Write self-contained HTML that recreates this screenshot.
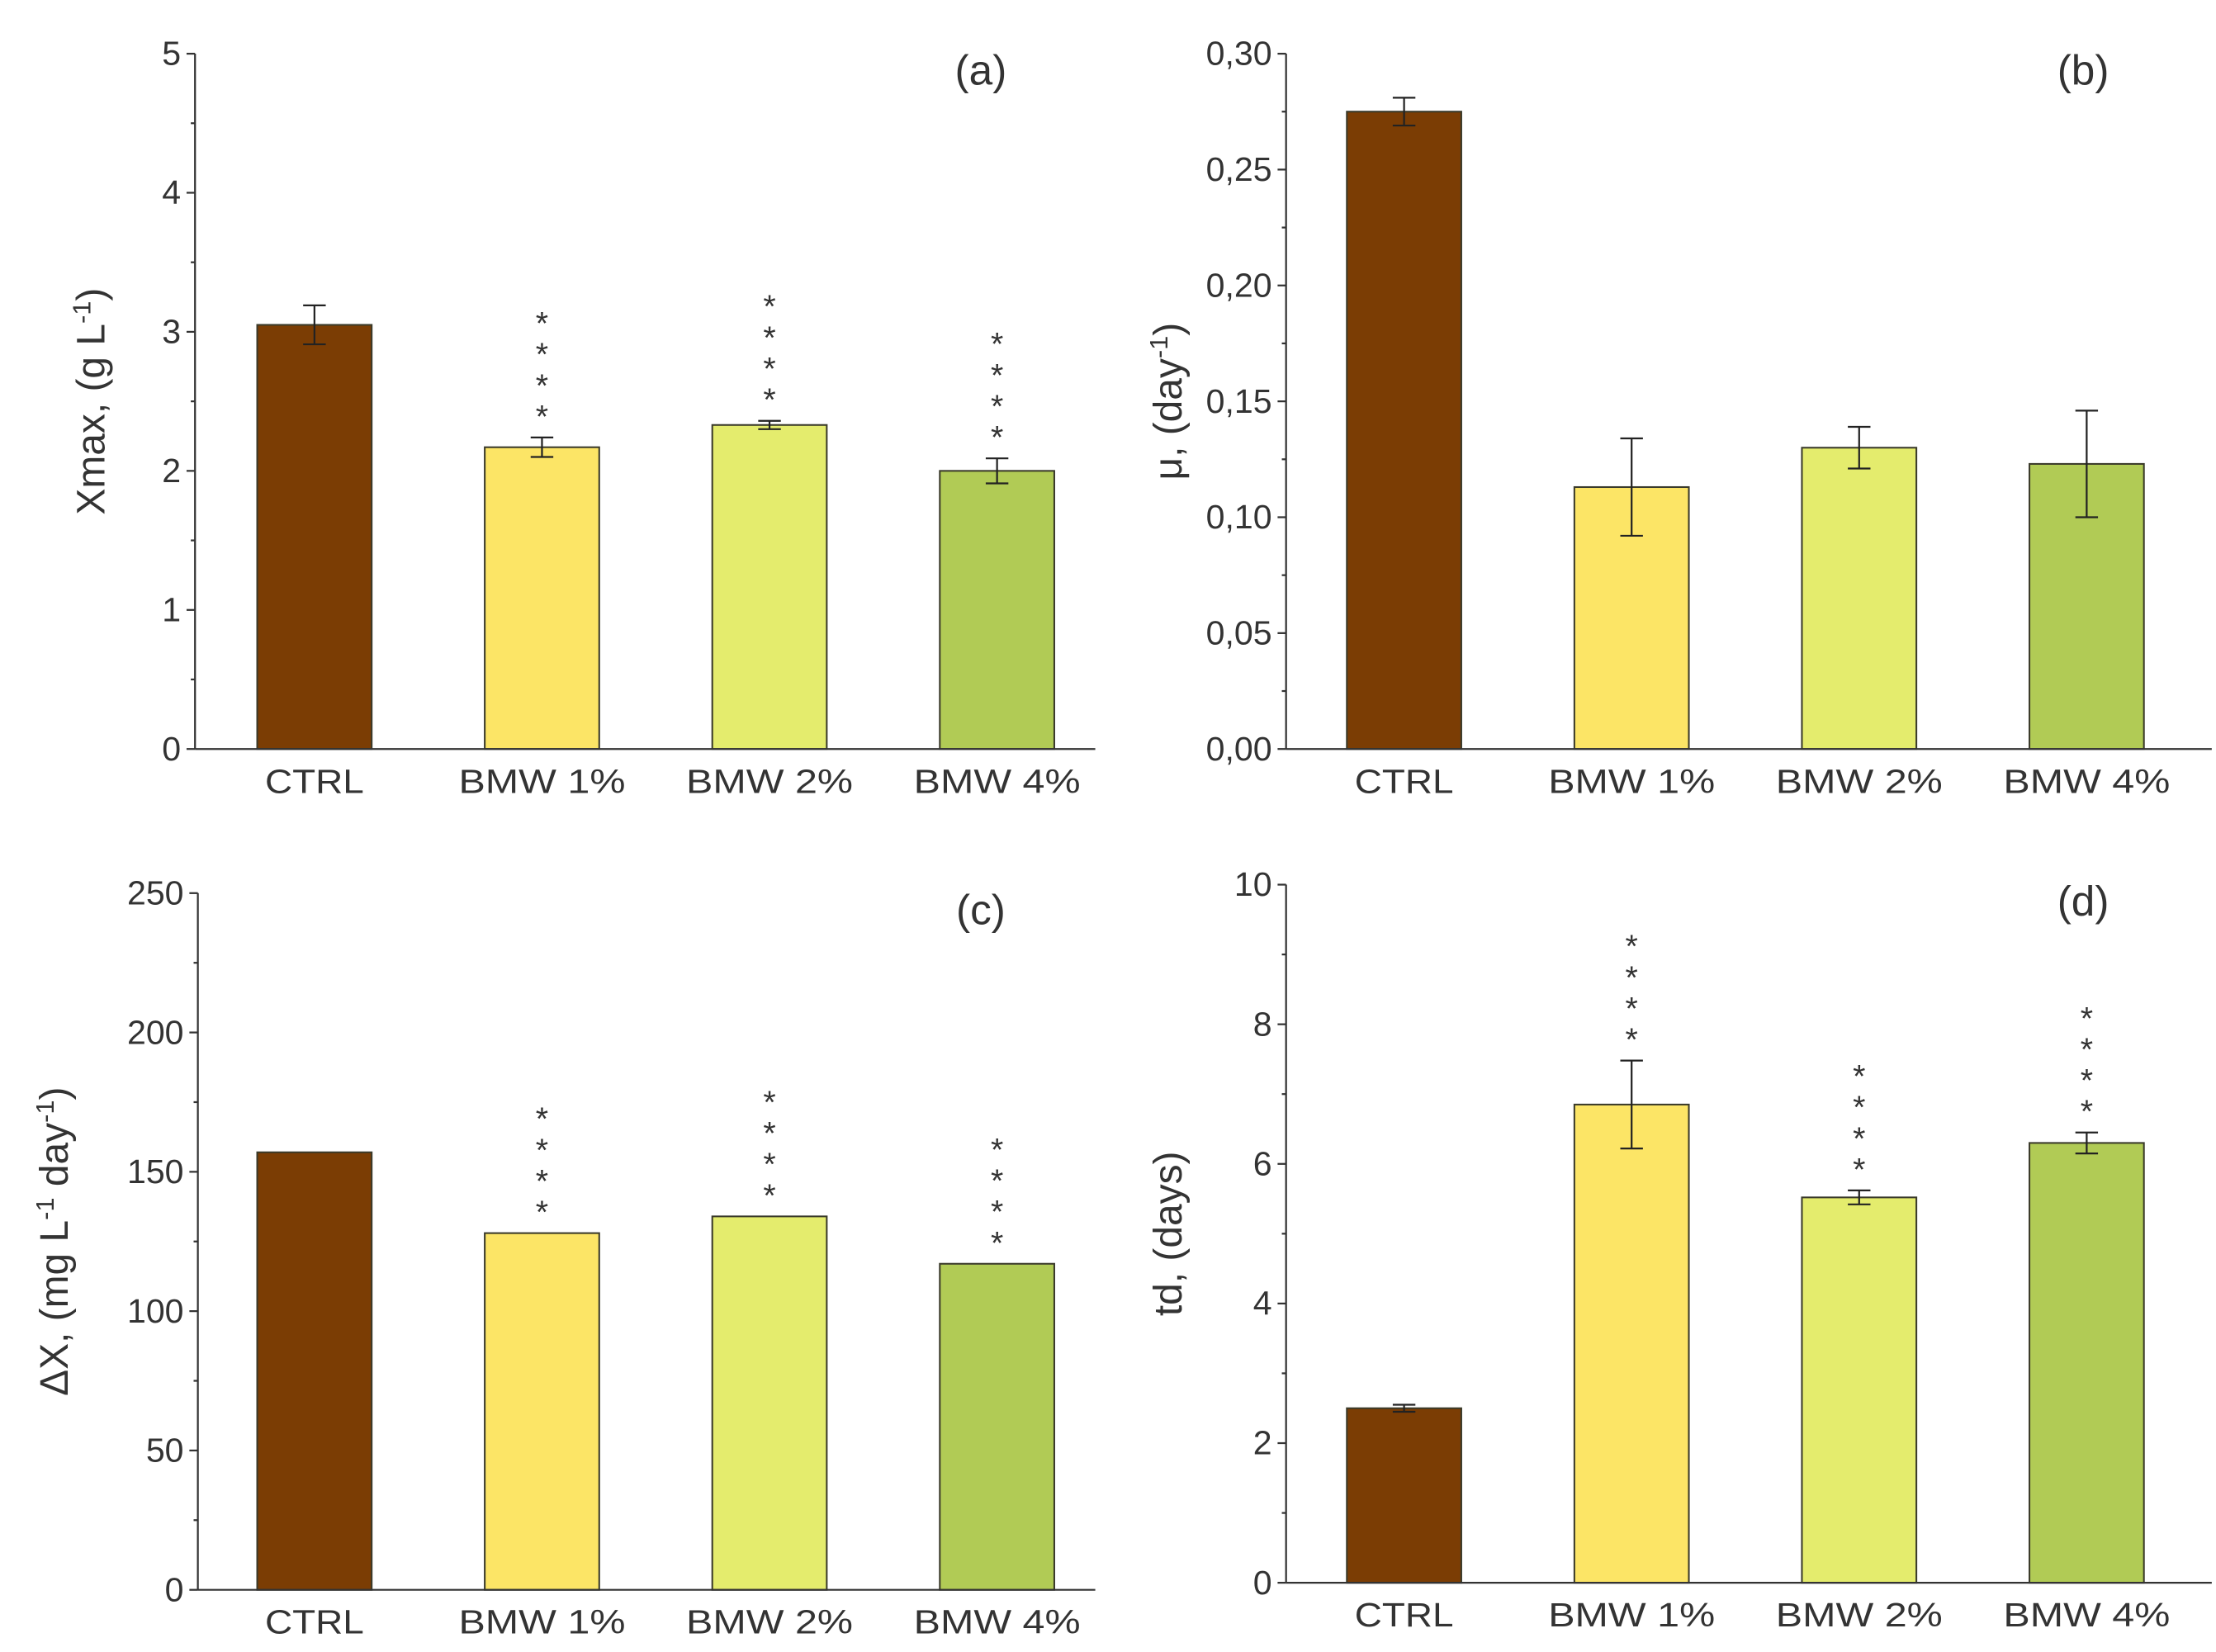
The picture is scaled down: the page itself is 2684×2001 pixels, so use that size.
<!DOCTYPE html>
<html><head><meta charset="utf-8"><style>
html,body{margin:0;padding:0;background:#fff;}
svg{display:block;}
text{font-family:"Liberation Sans",sans-serif;fill:#333;}
</style></head><body>
<svg id="fig" width="2684" height="2001" viewBox="0 0 1568 1169" preserveAspectRatio="none" xmlns="http://www.w3.org/2000/svg"></svg>
<script>
const categories = ["CTRL","BMW 1%","BMW 2%","BMW 4%"];
const barColors = ["#7b3d04","#fce566","#e4ec6d","#b1cb55"];
// panel a
const aValues = [3.05, 2.17, 2.33, 2.00];
const aErrors = [0.14, 0.07, 0.03, 0.09];
const aStars = [0, 4, 4, 4];
const aTicks = [0,1,2,3,4,5];
const aTickLabels = ["0","1","2","3","4","5"];
// panel b
const bValues = [0.275, 0.113, 0.130, 0.123];
const bErrors = [0.006, 0.021, 0.009, 0.023];
const bStars = [0, 0, 0, 0];
const bTicks = [0,0.05,0.10,0.15,0.20,0.25,0.30];
const bTickLabels = ["0,00","0,05","0,10","0,15","0,20","0,25","0,30"];
// panel c
const cValues = [157, 128, 134, 117];
const cErrors = [0, 0, 0, 0];
const cStars = [0, 4, 4, 4];
const cTicks = [0,50,100,150,200,250];
const cTickLabels = ["0","50","100","150","200","250"];
// panel d
const dValues = [2.50, 6.85, 5.52, 6.30];
const dErrors = [0.05, 0.63, 0.10, 0.15];
const dStars = [0, 4, 4, 4];
const dTicks = [0,2,4,6,8,10];
const dTickLabels = ["0","2","4","6","8","10"];

const NS = "http://www.w3.org/2000/svg";
const svg = document.getElementById("fig");
function mk(tag, attrs, parent){
  const e = document.createElementNS(NS, tag);
  for (const k in attrs) e.setAttribute(k, attrs[k]);
  (parent||svg).appendChild(e);
  return e;
}

function drawPanel(p){
  const g = mk("g", {});
  
  
  const ymax = p.ticks[p.ticks.length-1];
  const yS = v => p.y0 - (v/ymax)*(p.y0 - p.yTop);
  const xC = i => p.barX0 + p.barW/2 + i*p.step;
  p.values.forEach((v,i)=>{
    const r = mk("rect",{x:xC(i)-p.barW/2, y:yS(v), width:p.barW, height:p.y0-yS(v), fill:barColors[i], stroke:"#3a3a2a","stroke-width":1.2}, g);
    
    
    const e = p.errors[i];
    if (e > 0){
      const eg = mk("g",{stroke:"#222","stroke-width":1.3}, g);
      
      
      mk("line",{x1:xC(i),x2:xC(i),y1:yS(v+e),y2:yS(v-e)}, eg);
      mk("line",{x1:xC(i)-8,x2:xC(i)+8,y1:yS(v+e),y2:yS(v+e)}, eg);
      mk("line",{x1:xC(i)-8,x2:xC(i)+8,y1:yS(v-e),y2:yS(v-e)}, eg);
    }
    const n = p.stars[i];
    if (n > 0){
      const base = yS(v+e) - 17;
      for (let k=0;k<n;k++){
        const s = mk("text",{x:xC(i), y:base - k*22 + 10, "text-anchor":"middle","font-size":23, fill:"#555"}, g);
        s.textContent = "*";
        
        
      }
    }
    const cl = mk("text",{x:xC(i), y:p.y0+31, "text-anchor":"middle","font-size":24, "textLength":i==0?70:118, "lengthAdjust":"spacingAndGlyphs"}, g);
    cl.textContent = categories[i];
    
    
  });
  const ax = mk("g",{stroke:"#333","stroke-width":1.3}, g);
  
  
  mk("line",{x1:p.ax, x2:p.ax, y1:p.yTop, y2:p.y0}, ax);
  mk("line",{x1:p.ax, x2:p.axEnd, y1:p.y0, y2:p.y0}, ax);
  p.ticks.forEach((t,j)=>{
    mk("line",{x1:p.ax-6, x2:p.ax, y1:yS(t), y2:yS(t)}, ax);
    if (j < p.ticks.length-1){
      const m = (t + p.ticks[j+1])/2;
      mk("line",{x1:p.ax-3, x2:p.ax, y1:yS(m), y2:yS(m)}, ax);
    }
    const tl = mk("text",{x:p.ax-10, y:yS(t)+8, "text-anchor":"end","font-size":24}, g);
    tl.textContent = p.tickLabels[j];
    
    
  });
  const pl = mk("text",{x:p.letterX, y:p.yTop+22, "text-anchor":"middle","font-size":30, fill:"#222"}, g);
  pl.textContent = "(" + p.id + ")";
  
  
  const yt = mk("text",{transform:"translate("+p.titleX+","+((p.yTop+p.y0)/2)+") rotate(-90)","text-anchor":"middle","font-size":28}, g);
  
  
  p.title.forEach(part=>{
    const ts = mk("tspan", part[1] ? {"baseline-shift":"super","font-size":18} : {}, yt);
    ts.textContent = part[0];
  });
}

const common = {barX0:182, barW:81, step:161};
drawPanel(Object.assign({}, common, {id:"a", values:aValues, errors:aErrors, stars:aStars, ticks:aTicks, tickLabels:aTickLabels,
  ax:138, axEnd:775, yTop:38, y0:530, letterX:694, titleX:74, title:[["Xmax, (g L",0],["-1",1],[")",0]]}));
drawPanel(Object.assign({}, common, {id:"b", barX0:953, values:bValues, errors:bErrors, stars:bStars, ticks:bTicks, tickLabels:bTickLabels,
  ax:910, axEnd:1565, yTop:38, y0:530, letterX:1474, titleX:836, title:[["\u03bc, (day",0],["-1",1],[")",0]]}));
drawPanel(Object.assign({}, common, {id:"c", values:cValues, errors:cErrors, stars:cStars, ticks:cTicks, tickLabels:cTickLabels,
  ax:140, axEnd:775, yTop:632, y0:1125, letterX:694, titleX:48, title:[["\u0394X, (mg L",0],["-1",1],[" day",0],["-1",1],[")",0]]}));
drawPanel(Object.assign({}, common, {id:"d", barX0:953, values:dValues, errors:dErrors, stars:dStars, ticks:dTicks, tickLabels:dTickLabels,
  ax:910, axEnd:1565, yTop:626, y0:1120, letterX:1474, titleX:836, title:[["td, (days)",0]]}));
</script>
</body></html>
